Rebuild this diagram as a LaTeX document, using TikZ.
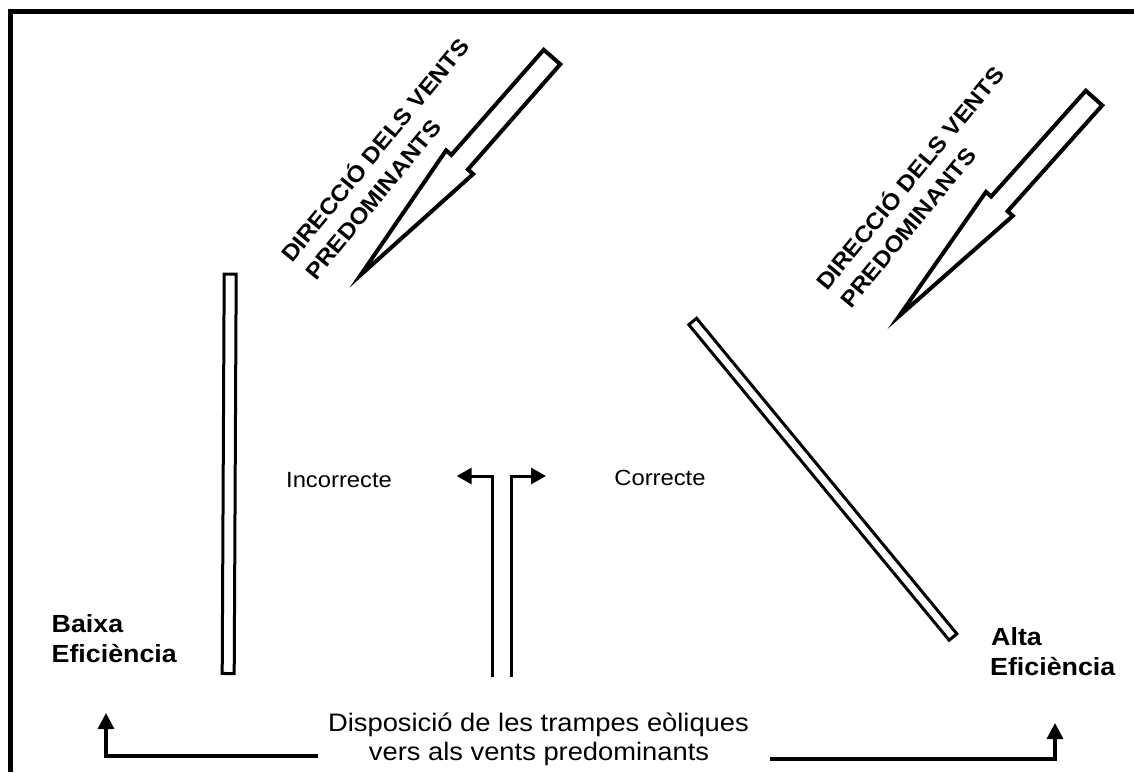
\documentclass[tikz,border=0pt]{standalone}
\usepackage{fontspec}
\newfontfamily\af{Liberation Sans}[FakeStretch=1.08]
\usetikzlibrary{arrows.meta,calc}
\begin{document}
\begin{tikzpicture}[x=1pt,y=-1pt,
  frameline/.style={line width=4.5pt,line join=miter},
  wall/.style={draw,line width=3pt,fill=white,line join=miter},
  windarrow/.style={draw,line width=4pt,fill=white,line join=miter,miter limit=20},
  pointer/.style={line width=3pt,line join=miter,-{Triangle[length=15pt,width=16pt]}},
  basearrow/.style={line width=3.3pt,line join=miter,-{Triangle[length=16pt,width=16pt]}},
  windtxt/.style={inner sep=0pt,rotate=50.5,anchor=base west,font=\af\bfseries\fontsize{22.7pt}{26pt}\selectfont},
  efftxt/.style={inner sep=0pt,anchor=base west,font=\af\bfseries\fontsize{24.8pt}{30pt}\selectfont},
  judgetxt/.style={inner sep=0pt,anchor=base,font=\af\fontsize{22pt}{26pt}\selectfont},
  captxt/.style={inner sep=0pt,anchor=base,font=\af\fontsize{25.3pt}{30pt}\selectfont}]
\useasboundingbox (0,0) rectangle (1134,772);
\fill[white] (0,0) rectangle (1134,772);
% frame (open at right and bottom)
\draw[frameline] (10.5,772) -- (10.5,11.5) -- (1134,11.5);

% left wind arrow
\coordinate (wT1) at (552,57);
\coordinate (wP1) at (360.6,275);
\coordinate (wJ1) at ($(wT1)!140pt!(wP1)$);
\draw[windarrow] ($(wT1)!11pt!90:(wP1)$) -- ($(wJ1)!11pt!90:(wP1)$) -- ($(wJ1)!18pt!90:(wP1)$) -- (wP1)
  -- ($(wJ1)!18pt!-90:(wP1)$) -- ($(wJ1)!11pt!-90:(wP1)$) -- ($(wT1)!11pt!-90:(wP1)$) -- cycle;
\node[windtxt] (wl1a) at (292,264) {DIRECCIÓ DELS VENTS};
\node[windtxt] (wl1b) at (316,281.5) {PREDOMINANTS};

% right wind arrow
\coordinate (wT2) at (1094,98);
\coordinate (wP2) at (898.9,316.3);
\coordinate (wJ2) at ($(wT2)!142pt!(wP2)$);
\draw[windarrow] ($(wT2)!11pt!90:(wP2)$) -- ($(wJ2)!11pt!90:(wP2)$) -- ($(wJ2)!18pt!90:(wP2)$) -- (wP2)
  -- ($(wJ2)!18pt!-90:(wP2)$) -- ($(wJ2)!11pt!-90:(wP2)$) -- ($(wT2)!11pt!-90:(wP2)$) -- cycle;
\node[windtxt] (wl2a) at (827,292) {DIRECCIÓ DELS VENTS};
\node[windtxt] (wl2b) at (851,309.5) {PREDOMINANTS};

% left (vertical) trap
\coordinate (t1a) at (230.2,274.2);
\coordinate (t1b) at (228.2,673.5);
\draw[wall] ($(t1a)!6pt!90:(t1b)$) -- ($(t1b)!6pt!-90:(t1a)$) -- ($(t1b)!6pt!90:(t1a)$) -- ($(t1a)!6pt!-90:(t1b)$) -- cycle;

% right (diagonal) trap
\coordinate (t2a) at (692.7,321.5);
\coordinate (t2b) at (953,637);
\draw[wall] ($(t2a)!5pt!90:(t2b)$) -- ($(t2b)!5pt!-90:(t2a)$) -- ($(t2b)!5pt!90:(t2a)$) -- ($(t2a)!5pt!-90:(t2b)$) -- cycle;

% central split arrows
\coordinate (cl0) at (492.3,677);
\coordinate (cl1) at (492.3,476);
\coordinate (cl2) at (456.7,476);
\coordinate (cr0) at (511,677);
\coordinate (cr1) at (511,476);
\coordinate (cr2) at (546,476);
\draw[pointer] (cl0) -- (cl1) -- (cl2);
\draw[pointer] (cr0) -- (cr1) -- (cr2);

\node[judgetxt] (inc) at (339,487) {Incorrecte};
\node[judgetxt] (cor) at (660,485) {Correcte};

% efficiency labels
\node[efftxt] (baixa1) at (51.5,632.3) {Baixa};
\node[efftxt] (baixa2) at (51.5,662.7) {Eficiència};
\node[efftxt] (alta1) at (991,645) {Alta};
\node[efftxt] (alta2) at (990,675) {Eficiència};

% caption
\node[captxt] (cap1) at (538.5,731.7) {Disposició de les trampes eòliques};
\node[captxt] (cap2) at (539,760.7) {vers als vents predominants};

% bottom arrows
\coordinate (la0) at (318,756);
\coordinate (la1) at (106,756);
\coordinate (la2) at (106,713);
\draw[basearrow] (la0) -- (la1) -- (la2);
\coordinate (ra0) at (770,759);
\coordinate (ra1) at (1055,759);
\coordinate (ra2) at (1055,723);
\draw[basearrow] (ra0) -- (ra1) -- (ra2);
\end{tikzpicture}
\end{document}
